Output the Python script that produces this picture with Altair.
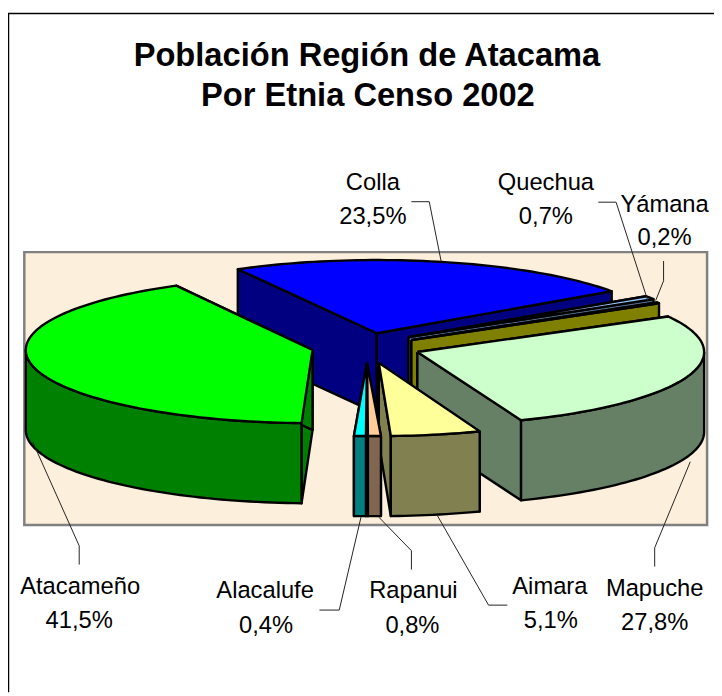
import math
import altair as alt
import pandas as pd

# ---- values ----
names = ["Atacameño", "Colla", "Quechua", "Yámana", "Mapuche", "Aimara", "Rapanui", "Alacalufe"]
shares = ["41,5%", "23,5%", "0,7%", "0,2%", "27,8%", "5,1%", "0,8%", "0,4%"]
title_lines = ["Población Región de Atacama", "Por Etnia Censo 2002"]

# ---- layout (page pixels of the reference), kept apart from the values ----
W, H = 714, 688
OX, OY = 8, 8
RX, RY, DEPTH = 290, 74, 81
# name: apex x, apex y, start angle, end angle, top colour, wall colour
slices = {
    "Colla":     (381, 333, 241.0, 325.0, "#0000FF", "#000080"),
    "Quechua":   (413, 337, 326.0, 328.7, "#99CCFF", "#4C6680"),
    "Yámana":    (416, 340, 329.0, 329.7, "#FFFF00", "#808000"),
    "Mapuche":   (422, 352, 331.0, 428.8, "#CCFFCC", "#668066"),
    "Aimara":    (383, 363, 69.4, 87.6, "#FFFF99", "#808050"),
    "Rapanui":   (371, 363, 87.2, 89.8, "#FFCC99", "#806650"),
    "Alacalufe": (371, 363, 90.2, 92.6, "#00FFFF", "#008080"),
    "Atacameño": (316, 350, 92.2, 241.6, "#00FF00", "#008000"),
}
label_pos = {
    "Atacameño": (81, 597, 80, 631), "Colla": (377, 188, 377, 223),
    "Quechua": (552, 188, 552, 223), "Yámana": (672, 210, 672, 244),
    "Mapuche": (662, 599, 662, 633), "Aimara": (556, 597, 557, 631),
    "Rapanui": (418, 601, 417, 636), "Alacalufe": (268, 601, 269, 636),
}
leaders = {
    "Atacameño": [(80, 567), (80, 548), (33, 443)],
    "Colla": [(416, 200), (434, 200), (446, 260)],
    "Quechua": [(605, 200.5), (623, 200.5), (655, 300)],
    "Yámana": [(671, 260), (671, 280), (663, 300)],
    "Mapuche": [(662, 569), (662, 550), (698, 463)],
    "Aimara": [(513, 608), (494, 608), (442, 517)],
    "Rapanui": [(416, 572), (416, 553), (383, 519)],
    "Alacalufe": [(323, 613), (343, 613), (365, 519)],
}


def rim(cx, cy, a0, a1, dy=0.0):
    n = max(2, int(abs(a1 - a0) / 1.5) + 1)
    out = []
    for k in range(n + 1):
        a = math.radians(a0 + (a1 - a0) * k / n)
        out.append((cx + RX * math.cos(a), cy + RY * math.sin(a) + dy))
    return out


polys = []


def add(points, fill):
    pid = len(polys)
    closed = list(points) + [points[0]]
    polys.append(pd.DataFrame({
        "x": [p[0] - OX for p in closed],
        "y": [p[1] - OY for p in closed],
        "i": range(len(closed)),
        "pid": pid,
        "fill": fill,
    }))


for name, (cx, cy, a0, a1, top, wall) in slices.items():
    for a in (a0, a1):
        r = rim(cx, cy, a, a)[0]
        add([(cx, cy), r, (r[0], r[1] + DEPTH), (cx, cy + DEPTH)], wall)
    lo, hi = max(a0, 0), min(a1, 180)
    if a1 > 360:
        lo, hi = 360, a1
    if hi > lo:
        front = rim(cx, cy, lo, hi)
        add(front + [(x, y + DEPTH) for x, y in reversed(front)], wall)
    add([(cx, cy)] + rim(cx, cy, a0, a1), top)

poly_df = pd.concat(polys, ignore_index=True)

xs = alt.Scale(domain=[0, W], range=[0, W])
ys = alt.Scale(domain=[0, H], range=[0, H])
X = alt.X("x:Q", scale=xs, axis=None)
Y = alt.Y("y:Q", scale=ys, axis=None)

frame_df = pd.DataFrame({"x": [W, 0.5, 0.5], "y": [1.7, 1.7, H], "i": [0, 1, 2]})
frame = alt.Chart(frame_df).mark_line(color="#000000", strokeWidth=1.5).encode(x=X, y=Y, order="i:O")

plot_bg = alt.Chart(pd.DataFrame({"x": [24.5 - OX], "x2": [715 - OX], "y": [251 - OY], "y2": [527 - OY]})).mark_rect(
    fill="#FCF0DC", stroke="#808080", strokeWidth=2.5
).encode(x=X, x2="x2:Q", y=Y, y2="y2:Q")

pie_layers = [
    alt.Chart(g).mark_line(fill=g["fill"].iloc[0], stroke="#000000", strokeWidth=2.4, strokeJoin="round").encode(
        x=X, y=Y, order="i:Q"
    )
    for _, g in poly_df.groupby("pid", sort=True)
]

lead_rows = [
    {"x": p[0] - OX, "y": p[1] - OY, "i": i, "who": n}
    for n, pts in leaders.items() for i, p in enumerate(pts)
]
lead = alt.Chart(pd.DataFrame(lead_rows)).mark_line(color="#222222", strokeWidth=1).encode(
    x=X, y=Y, order="i:Q", detail="who:N"
)

text_rows = []
for n, s in zip(names, shares):
    x1, y1, x2, y2 = label_pos[n]
    text_rows.append({"x": x1 - OX, "y": y1 - OY, "t": n})
    text_rows.append({"x": x2 - OX, "y": y2 - OY, "t": s})
labels = alt.Chart(pd.DataFrame(text_rows)).mark_text(
    font="Liberation Sans", fontSize=24, color="#000000", align="center", baseline="alphabetic"
).encode(x=X, y=Y, text="t:N")

title_df = pd.DataFrame({"x": [371 - OX, 372 - OX], "y": [63 - OY, 103 - OY], "t": title_lines})
title = alt.Chart(title_df).mark_text(
    font="Liberation Sans", fontSize=33, fontWeight="bold", color="#000000", align="center", baseline="alphabetic"
).encode(x=X, y=Y, text="t:N")

chart = alt.layer(frame, plot_bg, *pie_layers, lead, labels, title).properties(
    width=W, height=H, padding=0, autosize=alt.AutoSizeParams(type="none"), background="#FFFFFF"
).configure_view(stroke=None)

chart.save("out.html", embed_options={"renderer": "svg", "actions": False})
